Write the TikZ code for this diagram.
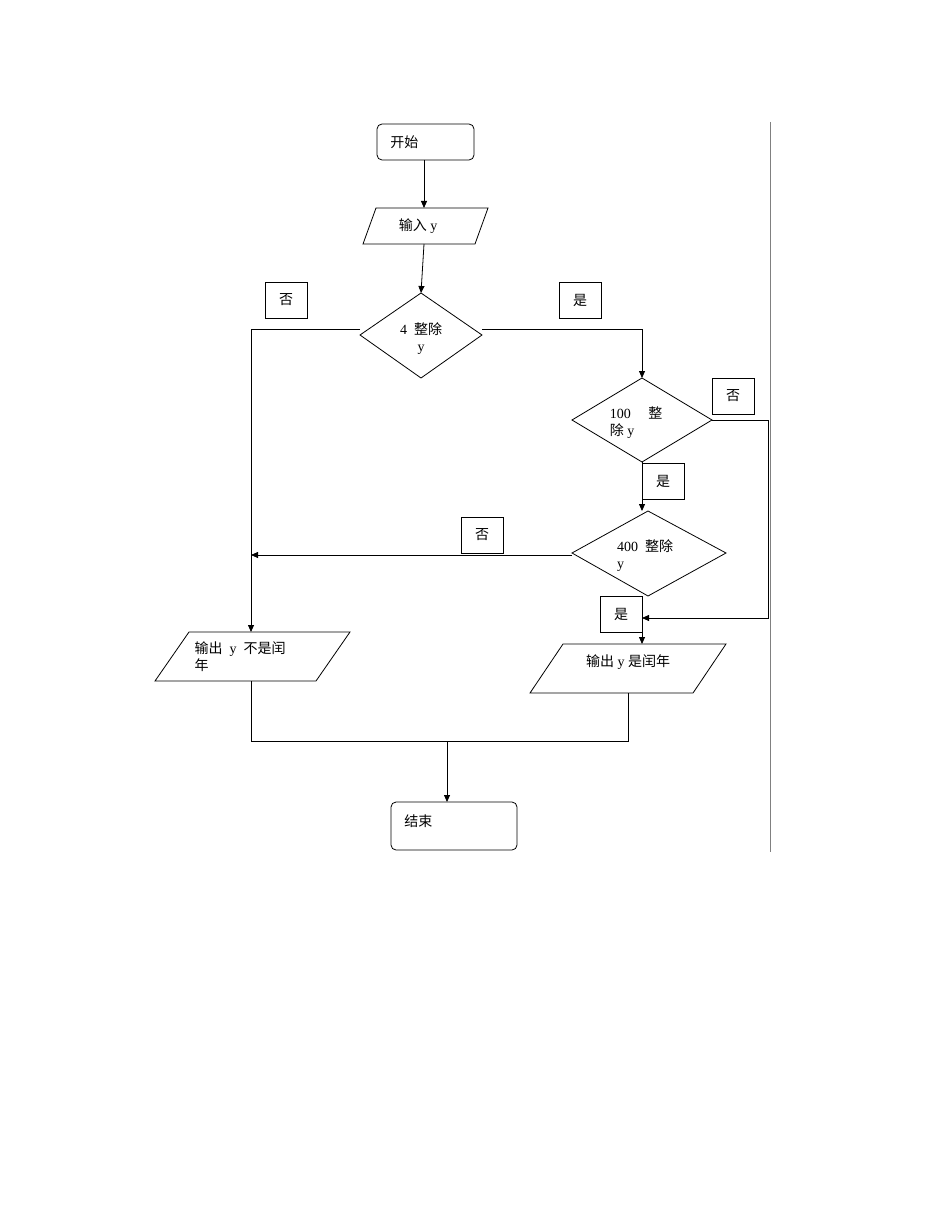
\documentclass[tikz,border=0pt]{standalone}
\usepackage{fontspec}
\setmainfont{Liberation Serif}
\newfontfamily\cjk{Noto Sans CJK SC}
\usetikzlibrary{arrows.meta}
\begin{document}
\begin{tikzpicture}[x=1pt,y=-1pt,line width=0.8pt,
  arr/.style={-{Triangle[length=7pt,width=6pt]}},
  lbl/.style={draw,minimum width=42pt,minimum height=36pt,inner sep=0pt,font=\fontsize{14}{16}\cjk},
  txt/.style={font=\fontsize{14}{17}\selectfont,align=left,inner sep=0pt}]
\useasboundingbox (0,0) rectangle (950,1230);
% start
\draw[rounded corners=5pt] (377,124) rectangle (474,160);
\node[txt,anchor=west] (s) at (390,142) {{\cjk 开始}};
\coordinate (sB) at (424,160);
% input
\draw (376,208) -- (488,208) -- (475,244) -- (363,244) -- cycle;
\node[txt] (in) at (418,226) {{\cjk 输入} y};
\coordinate (inT) at (424,208); \coordinate (inB) at (424,244);
\draw[arr] (sB) -- (inT);
% diamond 1
\coordinate (d1T) at (421,293); \coordinate (d1B) at (421,378);
\draw (d1T) -- (482,335) -- (d1B) -- (360,335) -- cycle;
\node[txt,align=center] (d1) at (421,339) {4\ \ {\cjk 整除}\\y};
\draw[arr] (inB) -- (d1T);
\node[lbl] (n1) at (286,300) {否};
\node[lbl] (y1) at (580,300) {是};
% diamond 2
\coordinate (d2T) at (642,378); \coordinate (d2B) at (642,462);
\draw (d2T) -- (712,420) -- (d2B) -- (572,420) -- cycle;
\node[txt] (d2) at (636,423) {100\quad\ {\cjk 整}\\{\cjk 除} y};
\draw[arr] (482,329) -- (642,329) -- (d2T);
\node[lbl] (n2) at (733,396) {否};
\node[lbl] (y2) at (663,481) {是};
% diamond 3
\coordinate (d3T) at (642,511); \coordinate (d3B) at (642,596);
\draw (648,511) -- (726,553) -- (648,596) -- (572,553) -- cycle;
\node[txt] (d3) at (645,556) {400\ \ {\cjk 整除}\\y};
\draw[arr] (d2B) -- (d3T);
\node[lbl] (n3) at (482,535) {否};
\node[lbl] (y3) at (621,614) {是};
% outputs
\draw (189,632) -- (350,632) -- (316,681) -- (155,681) -- cycle;
\node[txt] (o1) at (240,657) {{\cjk 输出}\ \ y\ \ {\cjk 不是闰}\\{\cjk 年}};
\draw (563,644) -- (726,644) -- (693,693) -- (530,693) -- cycle;
\node[txt] (o2) at (628,662) {{\cjk 输出} y {\cjk 是闰年}};
% connectors
\draw[arr] (360,329) -- (251,329) -- (251,632);
\draw[arr] (572,555) -- (251,555);
\draw[arr] (712,420) -- (768,420) -- (768,618) -- (642,618);
\draw[arr] (642,596) -- (642,644);
\draw (251,681) -- (251,741) -- (628,741) -- (628,693);
% end
\draw[rounded corners=5pt] (391,802) rectangle (517,850);
\node[txt,anchor=west] (e) at (404,821) {{\cjk 结束}};
\draw[arr] (447,741) -- (447,802);
\draw[gray,line width=0.6pt] (770,122) -- (770,852);
\end{tikzpicture}
\end{document}
